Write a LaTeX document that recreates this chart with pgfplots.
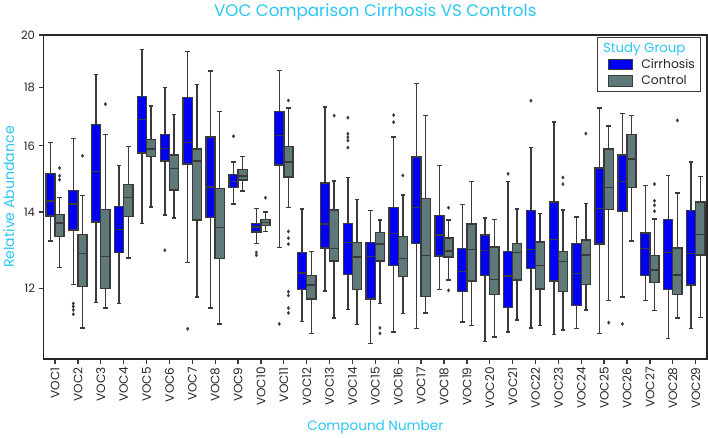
\documentclass[border=0pt]{standalone}
\usepackage{fontspec}
\setmainfont{Poppins}
\usepackage{pgfplots}
\pgfplotsset{compat=1.18}
\definecolor{cir}{HTML}{0000F2}
\definecolor{ctl}{HTML}{5F7878}
\definecolor{edge}{HTML}{3A3A3A}
\definecolor{ttl}{HTML}{2BC6F5}
\definecolor{txt}{HTML}{262626}

\pgfplotsset{
  ln/.style={forget plot, draw=edge, line width=1.4pt},
}
% colour, position, lower whisker, lower quartile, median, upper quartile, upper whisker
\newcommand{\bx}[7]{%
  \pgfmathsetmacro\xa{#2-0.2}\pgfmathsetmacro\xb{#2+0.2}%
  \pgfmathsetmacro\ca{#2-0.1}\pgfmathsetmacro\cb{#2+0.1}%
  \addplot[ln] coordinates {(#2,#3) (#2,#4)};
  \addplot[ln] coordinates {(#2,#6) (#2,#7)};
  \addplot[ln] coordinates {(\ca,#3) (\cb,#3)};
  \addplot[ln] coordinates {(\ca,#7) (\cb,#7)};
  \addplot[ln, fill=#1] coordinates {(\xa,#4) (\xb,#4) (\xb,#6) (\xa,#6)} -- cycle;
  \addplot[ln] coordinates {(\xa,#5) (\xb,#5)};
}

\begin{document}
\begin{tikzpicture}
\begin{axis}[
  scale only axis,
  width=660pt, height=322pt,
  ymode=log, ymin=10.41, ymax=20,
  ytick={12,14,16,18,20}, yticklabels={12,14,16,18,20},
  yminorticks=false,
  xmin=-0.5, xmax=28.5,
  xtick={0,...,28},
  xticklabels={VOC1,VOC2,VOC3,VOC4,VOC5,VOC6,VOC7,VOC8,VOC9,VOC10,VOC11,VOC12,VOC13,VOC14,VOC15,VOC16,VOC17,VOC18,VOC19,VOC20,VOC21,VOC22,VOC23,VOC24,VOC25,VOC26,VOC27,VOC28,VOC29},
  x tick label style={rotate=90, anchor=east, font=\fontsize{12}{12}\selectfont, text=txt},
  y tick label style={font=\fontsize{11.5}{12}\selectfont, text=txt},
  xtick pos=bottom, ytick pos=left,
  tick align=outside, major tick length=5pt,
  tick style={draw=edge, line width=1.3pt},
  axis line style={draw=black!85, line width=1.8pt},
  title={VOC Comparison Cirrhosis VS Controls},
  title style={font=\fontsize{16.6}{17}\selectfont, text=ttl, at={(0.5,1)}, anchor=base, yshift=13pt},
  xlabel={Compound Number},
  xlabel style={font=\fontsize{13.5}{14}\selectfont, text=ttl, at={(0.5,0)}, anchor=base, yshift=-71pt},
  ylabel={Relative Abundance},
  ylabel style={font=\fontsize{14}{14}\selectfont, text=ttl},
  legend style={at={(1,1)}, anchor=north east, xshift=-6pt, yshift=-1.5pt,
    draw=edge, line width=1.3pt, font=\fontsize{12.3}{14}\selectfont, text=txt,
    cells={anchor=west}, inner xsep=3.5pt, inner ysep=3pt, row sep=1.5pt},
  legend image code/.code={\draw[#1, line width=1pt] (0pt,-5.2pt) rectangle (24pt,5.2pt);
    \path[draw=none, fill=none] (-7pt,0pt) -- (31pt,0pt);},
]
\bx{cir}{-0.2}{13.2}{13.89}{14.31}{15.13}{16.1}
\bx{ctl}{0.2}{12.51}{13.32}{13.69}{13.93}{14.41}
\bx{cir}{0.8}{12.09}{13.50}{14.23}{14.62}{16.24}
\bx{ctl}{1.2}{11.08}{12.04}{12.87}{13.37}{14.48}
\bx{cir}{1.8}{11.66}{13.72}{15.19}{16.71}{18.47}
\bx{ctl}{2.2}{11.53}{12.0}{12.79}{14.07}{16.36}
\bx{cir}{2.8}{11.64}{12.9}{13.52}{14.16}{15.37}
\bx{ctl}{3.2}{12.76}{13.88}{14.41}{14.80}{15.98}
\bx{cir}{3.8}{13.67}{15.77}{16.86}{17.68}{19.43}
\bx{ctl}{4.2}{14.14}{15.65}{15.90}{16.2}{17.33}
\bx{cir}{4.8}{13.92}{15.52}{15.92}{16.37}{18.0}
\bx{ctl}{5.2}{13.83}{14.63}{15.28}{15.70}{17.05}
\bx{cir}{5.8}{12.64}{15.42}{16.1}{17.64}{19.36}
\bx{ctl}{6.2}{11.79}{13.78}{15.52}{15.89}{18.1}
\bx{cir}{6.8}{11.53}{13.84}{14.72}{16.29}{18.6}
\bx{ctl}{7.2}{11.17}{12.75}{13.57}{14.68}{17.14}
\bx{cir}{7.8}{14.23}{14.71}{14.88}{15.09}{15.48}
\bx{ctl}{8.2}{14.6}{14.93}{15.05}{15.26}{15.66}
\bx{cir}{8.8}{13.13}{13.44}{13.58}{13.68}{14.09}
\bx{ctl}{9.2}{13.46}{13.62}{13.70}{13.79}{14.0}
\bx{cir}{9.8}{13.03}{15.39}{16.33}{17.15}{18.63}
\bx{ctl}{10.2}{14.12}{15.02}{15.49}{15.97}{17.27}
\bx{cir}{10.8}{11.23}{11.97}{12.38}{12.9}{14.08}
\bx{ctl}{11.2}{10.96}{11.75}{12.08}{12.32}{12.93}
\bx{cir}{11.8}{11.94}{13.02}{13.66}{14.84}{17.3}
\bx{ctl}{12.2}{11.3}{12.68}{13.01}{14.06}{14.9}
\bx{cir}{12.8}{11.5}{12.34}{13.17}{13.67}{15.0}
\bx{ctl}{13.2}{11.16}{11.98}{12.78}{13.16}{14.35}
\bx{cir}{13.8}{10.74}{11.75}{12.79}{13.16}{14.04}
\bx{ctl}{14.2}{11.64}{12.68}{13.12}{13.43}{13.78}
\bx{cir}{14.8}{10.99}{12.57}{13.41}{14.12}{16.29}
\bx{ctl}{15.2}{11.41}{12.29}{12.74}{13.33}{14.49}
\bx{cir}{15.8}{11.07}{13.13}{14.13}{15.64}{18.13}
\bx{ctl}{16.2}{11.42}{11.81}{12.82}{14.38}{17.01}
\bx{cir}{16.8}{11.98}{12.81}{13.36}{13.9}{15.38}
\bx{ctl}{17.2}{12.2}{12.78}{12.94}{13.28}{13.78}
\bx{cir}{17.8}{11.21}{11.92}{12.42}{13.01}{14.21}
\bx{ctl}{18.2}{11.14}{12.18}{12.98}{13.66}{14.88}
\bx{cir}{18.8}{10.78}{12.32}{12.96}{13.36}{13.83}
\bx{ctl}{19.2}{10.88}{11.85}{12.22}{13.04}{13.79}
\bx{cir}{19.8}{10.99}{11.55}{12.30}{12.93}{14.88}
\bx{ctl}{20.2}{11.26}{12.2}{12.9}{13.13}{14.08}
\bx{cir}{20.8}{11.08}{12.49}{12.98}{14.04}{15.94}
\bx{ctl}{21.2}{11.14}{11.99}{12.56}{13.18}{13.96}
\bx{cir}{21.8}{10.93}{12.18}{13.25}{14.29}{16.78}
\bx{ctl}{22.2}{11.03}{11.92}{12.67}{12.92}{14.06}
\bx{cir}{22.8}{11.07}{11.59}{12.37}{13.14}{13.86}
\bx{ctl}{23.2}{11.49}{12.1}{12.84}{13.23}{14.24}
\bx{cir}{23.8}{10.95}{13.12}{14.09}{15.3}{17.27}
\bx{ctl}{24.2}{11.71}{14.07}{14.71}{15.9}{16.65}
\bx{cir}{24.8}{11.79}{14.02}{14.88}{15.71}{17.08}
\bx{ctl}{25.2}{13.2}{14.70}{15.58}{16.37}{17.0}
\bx{cir}{25.8}{11.71}{12.31}{13.01}{13.42}{14.76}
\bx{ctl}{26.2}{11.47}{12.15}{12.45}{12.82}{13.8}
\bx{cir}{26.8}{10.84}{11.97}{12.9}{13.79}{15.06}
\bx{ctl}{27.2}{11.3}{11.85}{12.33}{13.02}{14.54}
\bx{cir}{27.8}{11.07}{12.08}{12.87}{14.04}{15.48}
\bx{ctl}{28.2}{11.31}{12.84}{13.38}{14.28}{15.04}
% outliers
\addplot[forget plot, only marks, mark=diamond*, mark size=1.7pt,
  mark options={fill=edge, draw=edge, line width=0.3pt}] coordinates {
  (0.8,11.64)(0.8,11.57)(0.8,11.49)(0.8,11.39)
  (4.8,12.96) (5.8,11.06) (7.8,16.31) (8.8,12.9)(8.8,12.83) (9.8,11.17)
  (12.8,16.93)(12.8,16.39)(12.8,16.28)(12.8,16.17)(12.8,15.94)
  (14.8,17.02)(14.8,16.78) (19.8,15.12) (20.8,17.52) (24.8,11.17)
  (0.2,15.3)(0.2,15.06)(0.2,14.94) (1.2,15.68) (2.2,17.40) (9.2,14.41)
  (10.2,17.53)(10.2,13.46)(10.2,13.28)(10.2,13.12)(10.2,11.92)(10.2,11.83)(10.2,11.53)(10.2,11.42)
  (12.2,17.0) (14.2,11.08)(14.2,10.96) (15.2,15.07) (17.2,14.12)(17.2,11.95)
  (22.2,15.01)(22.2,14.81) (23.2,16.4) (24.2,11.2)
  (26.2,14.81)(26.2,14.32)(26.2,14.19)(26.2,14.02) (27.2,16.84)
};
\addlegendimage{empty legend}
\addlegendentry{\hspace*{-38pt}\textcolor{ttl}{\fontsize{13.2}{14}\selectfont Study Group}}
\addlegendimage{draw=edge, fill=cir}
\addlegendentry{Cirrhosis}
\addlegendimage{draw=edge, fill=ctl}
\addlegendentry{Control}
\end{axis}
\end{tikzpicture}
\end{document}
